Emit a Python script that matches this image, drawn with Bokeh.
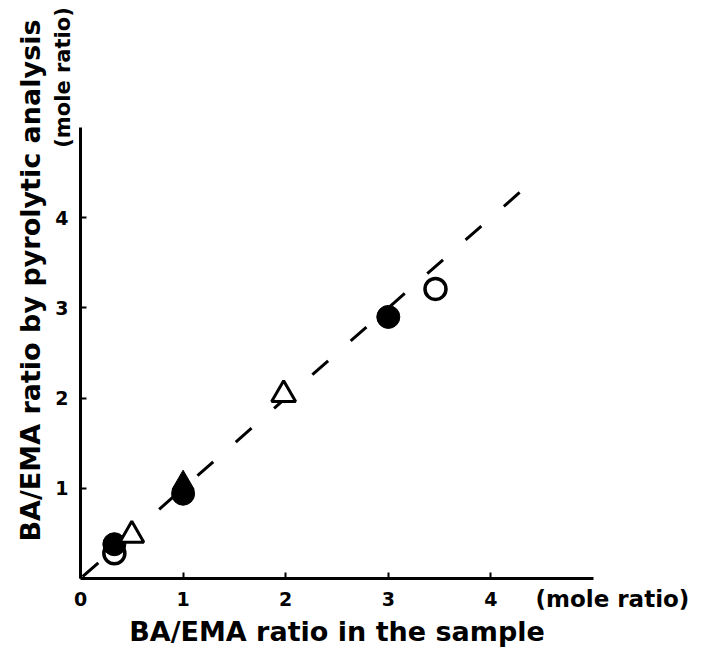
import math
from bokeh.plotting import figure
from bokeh.models import Range1d, FixedTicker
from bokeh.core.properties import value
from bokeh.embed import file_html
from bokeh.resources import INLINE

# ---- data ----
filled_circle_x = [0.33, 1.0, 3.0]
filled_circle_y = [0.38, 0.94, 2.90]
open_circle_x = [0.33, 3.46]
open_circle_y = [0.28, 3.21]
open_triangle_x = [0.50, 1.98]
open_triangle_y = [0.48, 2.04]
filled_triangle_x = [1.0]
filled_triangle_y = [1.06]
line_x = [0.02, 4.28]          # 1:1 reference line
line_y = [0.02, 4.28]
x_ticks = [0, 1, 2, 3, 4]
y_ticks = [1, 2, 3, 4]
axis_span = (0, 5)
x_title = "BA/EMA ratio in the sample"
y_title = "BA/EMA ratio by pyrolytic analysis"
unit_text = "(mole ratio)"

FONT = "DejaVu Sans"
W, H = 726, 648
X0, Y0 = 80, 578          # pixel position of the origin
SX, SY = 102.6, 90.2      # pixels per unit

p = figure(width=W, height=H,
           x_range=Range1d(-X0 / SX, (W - X0) / SX),
           y_range=Range1d(-(H - Y0) / SY, Y0 / SY),
           output_backend="svg", toolbar_location=None,
           min_border=0, min_border_left=0, min_border_right=0,
           min_border_top=0, min_border_bottom=0)
p.grid.visible = False
p.outline_line_color = None
p.background_fill_color = "white"
p.border_fill_color = "white"

for ax, ticks in ((p.xaxis, x_ticks), (p.yaxis, y_ticks)):
    ax.ticker = FixedTicker(ticks=ticks)
    ax.fixed_location = 0
    ax.bounds = axis_span
    ax.axis_line_width = 3
    ax.axis_line_color = "black"
    ax.major_tick_in = 6
    ax.major_tick_out = 0
    ax.major_tick_line_width = 2
    ax.major_tick_line_color = "black"
    ax.minor_tick_line_color = None
    ax.major_label_text_font = FONT
    ax.major_label_text_font_style = "bold"
    ax.major_label_text_font_size = "19px"
    ax.major_label_text_color = "black"
    ax.axis_label_text_font = FONT
    ax.axis_label_text_font_style = "bold"
    ax.axis_label_text_font_size = "27px"
    ax.axis_label_text_color = "black"

p.xaxis.axis_label = x_title
p.xaxis.major_label_standoff = 13
p.xaxis.axis_label_standoff = 7
p.yaxis.major_label_standoff = 12

# dashed 1:1 line
p.line(line_x, line_y, line_width=3, line_color="black", line_dash="21 30")

# markers
p.scatter(open_circle_x, open_circle_y, marker="circle", size=21,
          fill_color="white", line_color="black", line_width=3.5)
p.scatter(filled_triangle_x, filled_triangle_y, marker="triangle", size=22,
          fill_color="black", line_color="black", line_width=1)
p.scatter(filled_circle_x, filled_circle_y, marker="circle", size=23,
          fill_color="black", line_color="black", line_width=1)
p.scatter(open_triangle_x, open_triangle_y, marker="triangle", size=24,
          fill_color="white", line_color="black", line_width=3)

# y-axis title and unit labels
p.text(x=[(30 - X0) / SX], y=[(Y0 - 280) / SY], text=[y_title],
       angle=math.pi / 2, text_align="center", text_baseline="middle",
       text_font=value(FONT), text_font_style=value("bold"),
       text_font_size=value("27px"), text_color="black")
p.text(x=[(62 - X0) / SX], y=[(Y0 - 77) / SY], text=[unit_text],
       angle=math.pi / 2, text_align="center", text_baseline="middle",
       text_font=value(FONT), text_font_style=value("bold"),
       text_font_size=value("21px"), text_color="black")
p.text(x=[(535 - X0) / SX], y=[(Y0 - 598) / SY], text=[unit_text],
       text_align="left", text_baseline="middle",
       text_font=value(FONT), text_font_style=value("bold"),
       text_font_size=value("23px"), text_color="black")

open("out.html", "w").write(file_html(p, INLINE))
